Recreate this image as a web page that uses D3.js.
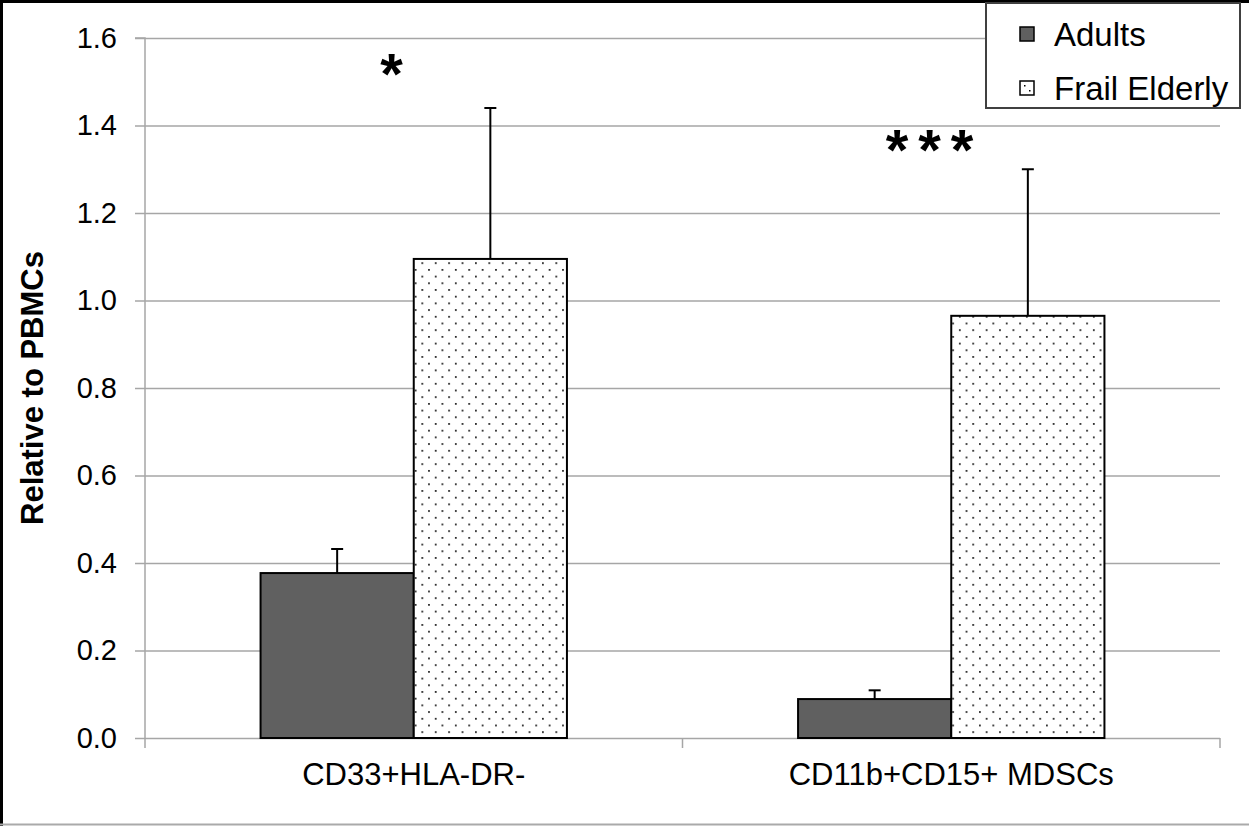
<!DOCTYPE html>
<html>
<head>
<meta charset="utf-8">
<script src="https://cdn.jsdelivr.net/npm/d3@7"></script>
<style>
  body { margin: 0; background: #fff; }
  svg { display: block; font-family: "Liberation Sans", Arial, sans-serif; }
</style>
</head>
<body>
<div id="chart"></div>
<script>
// data
const categories = ["CD33+HLA-DR-", "CD11b+CD15+ MDSCs"];
const series = ["Adults", "Frail Elderly"];
const adultsMean = [0.377, 0.089];
const adultsErr = [0.432, 0.109];
const frailMean = [1.095, 0.965];
const frailErr = [1.44, 1.30];
const significance = ["*", "***"];
const yTicks = [0, 0.2, 0.4, 0.6, 0.8, 1.0, 1.2, 1.4, 1.6];

const width = 1249, height = 826;
const plot = { left: 145, right: 1220, top: 38, bottom: 738 };

const svg = d3.select("#chart").append("svg")
    .attr("width", width)
    .attr("height", height);

// dot pattern for frail elderly bars
const defs = svg.append("defs");
const pat = defs.append("pattern")
    .attr("id", "dots")
    .attr("patternUnits", "userSpaceOnUse")
    .attr("width", 13.4)
    .attr("height", 13.4);
pat.append("rect").attr("width", 13.4).attr("height", 13.4).attr("fill", "#fff");
pat.append("rect").attr("x", 1).attr("y", 1).attr("width", 1.7).attr("height", 1.7).attr("fill", "#111");
pat.append("rect").attr("x", 7.7).attr("y", 7.7).attr("width", 1.7).attr("height", 1.7).attr("fill", "#111");

// outer frame
svg.append("rect").attr("x", 0).attr("y", 0).attr("width", width).attr("height", height).attr("fill", "#fff");
svg.append("line").attr("x1", 0).attr("x2", width).attr("y1", 1.5).attr("y2", 1.5).attr("stroke", "#000").attr("stroke-width", 3);
svg.append("line").attr("x1", 1.5).attr("x2", 1.5).attr("y1", 0).attr("y2", height).attr("stroke", "#000").attr("stroke-width", 3);
svg.append("line").attr("x1", 0).attr("x2", width).attr("y1", height - 1.5).attr("y2", height - 1.5).attr("stroke", "#aaa").attr("stroke-width", 2);

const y = d3.scaleLinear().domain([0, 1.6]).range([plot.bottom, plot.top]);
const x = d3.scaleBand().domain(categories).range([plot.left, plot.right]).padding(0);
const barW = x.bandwidth() * 0.285;
const sub = d3.scaleBand().domain(series).range([-barW, barW]);

// gridlines
svg.append("g").selectAll("line")
    .data(yTicks.slice(1))
    .enter().append("line")
    .attr("x1", plot.left).attr("x2", plot.right)
    .attr("y1", d => y(d) + 0.5).attr("y2", d => y(d) + 0.5)
    .attr("stroke", "#a6a6a6").attr("stroke-width", 1.5);

// y axis
const yAxis = svg.append("g")
    .attr("transform", `translate(${plot.left},0)`)
    .call(d3.axisLeft(y).tickValues(yTicks).tickFormat(d3.format(".1f")).tickSize(10).tickPadding(18));
yAxis.select(".domain").attr("stroke", "#a6a6a6").attr("stroke-width", 1.5).attr("d", `M-10,${plot.top}H0V${plot.bottom}`);
yAxis.selectAll(".tick line").attr("stroke", "#a6a6a6").attr("stroke-width", 1.5);
yAxis.selectAll("text")
    .attr("fill", "#000")
    .style("font-size", "29px")
    .style("font-family", "'Liberation Sans', Arial, sans-serif");

// x axis
const xAxis = svg.append("g")
    .attr("transform", `translate(0,${plot.bottom})`);
xAxis.append("line")
    .attr("x1", plot.left).attr("x2", plot.right)
    .attr("y1", 0.5).attr("y2", 0.5)
    .attr("stroke", "#a6a6a6").attr("stroke-width", 1.5);
const boundaries = [plot.left, x(categories[1]), plot.right];
xAxis.selectAll(".xtick")
    .data(boundaries)
    .enter().append("line")
    .attr("x1", d => d).attr("x2", d => d)
    .attr("y1", 0).attr("y2", 10)
    .attr("stroke", "#a6a6a6").attr("stroke-width", 1.5);
xAxis.selectAll(".xlabel")
    .data(categories)
    .enter().append("text")
    .attr("x", d => x(d) + x.bandwidth() / 2)
    .attr("y", 47)
    .attr("text-anchor", "middle")
    .style("font-size", "31px")
    .text(d => d);

// bars
const rows = categories.map((c, i) => ({
    cat: c,
    vals: [
        { s: series[0], v: adultsMean[i], e: adultsErr[i] },
        { s: series[1], v: frailMean[i], e: frailErr[i] }
    ]
}));

const groups = svg.selectAll(".grp")
    .data(rows)
    .enter().append("g")
    .attr("transform", d => `translate(${x(d.cat) + x.bandwidth() / 2},0)`);

// error bars
groups.selectAll(".err")
    .data(d => d.vals)
    .enter().append("g")
    .each(function(d) {
        const g = d3.select(this);
        const cx = sub(d.s) + sub.bandwidth() / 2;
        g.append("line").attr("x1", cx).attr("x2", cx).attr("y1", y(d.v)).attr("y2", y(d.e))
            .attr("stroke", "#000").attr("stroke-width", 2);
        g.append("line").attr("x1", cx - 6).attr("x2", cx + 6).attr("y1", y(d.e)).attr("y2", y(d.e))
            .attr("stroke", "#000").attr("stroke-width", 2);
    });

groups.selectAll(".bar")
    .data(d => d.vals)
    .enter().append("rect")
    .attr("x", d => sub(d.s))
    .attr("width", sub.bandwidth())
    .attr("y", d => y(d.v))
    .attr("height", d => y(0) - y(d.v))
    .attr("fill", d => d.s === "Adults" ? "#606060" : "url(#dots)")
    .attr("stroke", "#000")
    .attr("stroke-width", 2);

// significance asterisks
const sigSpacing = 10;
svg.selectAll(".sig")
    .data(significance)
    .enter().append("text")
    .attr("x", (d, i) => (i === 0 ? 391.5 : 929.5) + (d.length > 1 ? sigSpacing / 2 : 0))
    .attr("y", (d, i) => i === 0 ? 94 : 170)
    .attr("text-anchor", "middle")
    .style("font-size", "58px")
    .attr("font-weight", "bold")
    .attr("letter-spacing", d => d.length > 1 ? sigSpacing : 0)
    .text(d => d);

// y axis title
svg.append("text")
    .attr("transform", `translate(43,${(plot.top + plot.bottom) / 2}) rotate(-90)`)
    .attr("text-anchor", "middle")
    .style("font-size", "31px")
    .attr("font-weight", "bold")
    .text("Relative to PBMCs");

// legend
const legend = svg.append("g").attr("transform", "translate(986,3)");
legend.append("rect")
    .attr("width", 254).attr("height", 105)
    .attr("fill", "#fff").attr("stroke", "#404040").attr("stroke-width", 2);
const li = legend.selectAll(".li")
    .data(series)
    .enter().append("g")
    .attr("transform", (d, i) => `translate(0,${31 + i * 54})`);
li.append("rect")
    .attr("x", 34).attr("y", -7).attr("width", 14).attr("height", 14)
    .attr("fill", d => d === "Adults" ? "#606060" : "#fff")
    .attr("stroke", "#000").attr("stroke-width", 1.5);
li.filter(d => d !== "Adults").append("rect").attr("x", 38).attr("y", -3).attr("width", 1.5).attr("height", 1.5).attr("fill", "#000");
li.filter(d => d !== "Adults").append("rect").attr("x", 43).attr("y", 2).attr("width", 1.5).attr("height", 1.5).attr("fill", "#000");
li.append("text")
    .attr("x", 68).attr("y", 12)
    .style("font-size", "33px")
    .text(d => d);
</script>
</body>
</html>
